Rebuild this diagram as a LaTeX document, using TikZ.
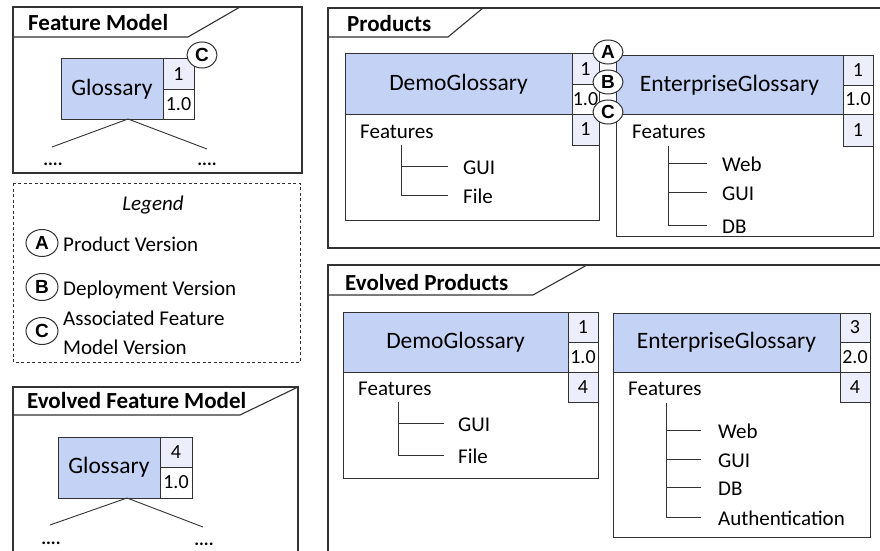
\documentclass[tikz,border=0pt]{standalone}
\usepackage{fontspec}
\setmainfont{Carlito}
\newfontfamily\markfont{Liberation Sans}
\usetikzlibrary{shapes.geometric}

\definecolor{nameblue}{RGB}{196,210,246}
\definecolor{celltint}{RGB}{236,238,251}
\definecolor{linegray}{RGB}{50,50,50}

\tikzset{
  panel/.style={draw=linegray, line width=1.1pt},
  legendframe/.style={draw=linegray, line width=0.8pt, dash pattern=on 3pt off 2.5pt},
  frametitle/.style={font=\fontsize{23}{27}\selectfont\bfseries, inner sep=0pt, anchor=base west},
  plaintext/.style={font=\fontsize{21}{26}\selectfont, inner sep=0pt},
  itemtext/.style={plaintext, anchor=base west},
  namebox/.style={rectangle, draw=linegray, line width=1pt, fill=nameblue, inner sep=0pt,
                   font=\fontsize{23.5}{28}\selectfont},
  outerbox/.style={rectangle, draw=linegray, line width=1pt, fill=white, inner sep=0pt},
  vcell/.style={rectangle, draw=linegray, line width=1pt, fill=celltint, inner sep=0pt,
                font=\fontsize{20}{24}\selectfont},
  vcellw/.style={vcell, fill=white},
  marker/.style={ellipse, draw=linegray, line width=1pt, fill=white, inner sep=0pt,
                 font=\markfont\fontsize{19}{22}\selectfont\bfseries},
  tree/.style={draw=linegray, line width=0.9pt},
  dots/.style={font=\fontsize{18}{20}\selectfont\bfseries, inner sep=0pt, anchor=base},
}

\begin{document}
\begin{tikzpicture}[x=1pt,y=-1pt]
\useasboundingbox (0,0) rectangle (880,551);
\clip (0,0) rectangle (880,551);
\fill[white] (0,0) rectangle (880,551);

% ---------------- Feature Model ----------------
\draw[panel] (13,7) rectangle (302,173);
\draw[panel] (13,37) -- (188,37) -- (240,7);
\node[frametitle] (fmTitle) at (28,31) {Feature Model};

\node[namebox, minimum width=102pt, minimum height=60pt] (fmName) at (112,89) {Glossary};
\node[vcell, minimum width=31pt, minimum height=30pt] (fmV1) at (178.5,74) {1};
\node[vcellw, minimum width=31pt, minimum height=30pt] (fmV2) at (178.5,104) {1.0};
\node[marker, minimum width=30pt, minimum height=26pt] (fmC) at (202,55) {C};

\coordinate (fmRoot) at (128,119);
\coordinate (fmLeft) at (52,147);
\coordinate (fmRight) at (207,149);
\draw[tree] (fmRoot) -- (fmLeft);
\draw[tree] (fmRoot) -- (fmRight);
\node[dots] (fmDotsL) at (53,165) {....};
\node[dots] (fmDotsR) at (207,165) {....};

% ---------------- Legend ----------------
\draw[legendframe] (13,183) rectangle (300,362);
\node[plaintext, anchor=base, font=\fontsize{21}{26}\selectfont\itshape] (lgTitle) at (153,210) {Legend};

\node[marker, minimum width=32pt, minimum height=27pt] (lgA) at (42,243) {A};
\node[itemtext] (lgAtext) at (63,251) {Product Version};
\node[marker, minimum width=32pt, minimum height=27pt] (lgB) at (42,287) {B};
\node[itemtext] (lgBtext) at (63,295) {Deployment Version};
\node[marker, minimum width=32pt, minimum height=27pt] (lgC) at (42,331) {C};
\node[plaintext, anchor=west, align=left, font=\fontsize{21}{29}\selectfont] (lgCtext) at (63,333)
  {Associated Feature\\Model Version};

% ---------------- Evolved Feature Model ----------------
\draw[panel] (13,387) rectangle (298,570);
\draw[panel] (13,415) -- (240,415) -- (298,387);
\node[frametitle] (efmTitle) at (27,408) {Evolved Feature Model};

\node[namebox, minimum width=102pt, minimum height=61pt] (efmName) at (109,467.5) {Glossary};
\node[vcell, minimum width=32pt, minimum height=30pt] (efmV1) at (176,452) {4};
\node[vcellw, minimum width=32pt, minimum height=31pt] (efmV2) at (176,482.5) {1.0};

\coordinate (efmRoot) at (127,498);
\coordinate (efmLeft) at (50,525);
\coordinate (efmRight) at (203,527);
\draw[tree] (efmRoot) -- (efmLeft);
\draw[tree] (efmRoot) -- (efmRight);
\node[dots] (efmDotsL) at (51,544) {....};
\node[dots] (efmDotsR) at (204,545) {....};

% ---------------- Products ----------------
\draw[panel] (328,8) rectangle (900,248);
\draw[panel] (328,37) -- (448,37) -- (483,8);
\node[frametitle] (pTitle) at (347,32) {Products};

% DemoGlossary
\node[outerbox, minimum width=254pt, minimum height=166pt] (pdBox) at (472,137) {};
\node[namebox, minimum width=227pt, minimum height=60pt] (pdName) at (458.5,84) {DemoGlossary};
\node[vcell, minimum width=27pt, minimum height=30pt] (pdV1) at (585.5,69) {1};
\node[vcellw, minimum width=27pt, minimum height=30pt] (pdV2) at (585.5,99) {1.0};
\node[vcell, minimum width=27pt, minimum height=31pt] (pdV3) at (585.5,129.5) {1};
\node[itemtext] (pdFeat) at (360,138) {Features};
\node[itemtext] (pdGUI) at (463,174) {GUI};
\node[itemtext] (pdFile) at (463,203) {File};
\coordinate (pdTrunk) at (401,145);
\coordinate (pdGUIe) at ([shift={(-15pt,8pt)}]pdGUI.base west);
\coordinate (pdFilee) at ([shift={(-15pt,8pt)}]pdFile.base west);
\draw[tree] (pdTrunk) |- (pdFilee);
\draw[tree] (pdTrunk |- pdGUIe) -- (pdGUIe);

% EnterpriseGlossary
\node[outerbox, minimum width=257pt, minimum height=180pt] (peBox) at (744.5,146) {};
\node[namebox, minimum width=227pt, minimum height=58pt] (peName) at (729.5,85) {EnterpriseGlossary};
\node[vcell, minimum width=30pt, minimum height=29pt] (peV1) at (858,70.5) {1};
\node[vcellw, minimum width=30pt, minimum height=29pt] (peV2) at (858,99.5) {1.0};
\node[vcell, minimum width=30pt, minimum height=32pt] (peV3) at (858,130) {1};
\node[itemtext] (peFeat) at (632,138) {Features};
\node[itemtext] (peWeb) at (722,171) {Web};
\node[itemtext] (peGUI) at (722,200) {GUI};
\node[itemtext] (peDB) at (722,233) {DB};
\coordinate (peTrunk) at (668,146);
\coordinate (peWebe) at ([shift={(-15pt,8pt)}]peWeb.base west);
\coordinate (peGUIe) at ([shift={(-15pt,8pt)}]peGUI.base west);
\coordinate (peDBe) at ([shift={(-15pt,8pt)}]peDB.base west);
\draw[tree] (peTrunk) |- (peDBe);
\draw[tree] (peTrunk |- peWebe) -- (peWebe);
\draw[tree] (peTrunk |- peGUIe) -- (peGUIe);

% version markers
\node[marker, minimum width=30pt, minimum height=24pt] (mA) at (608,52) {A};
\node[marker, minimum width=30pt, minimum height=24pt] (mB) at (608,82) {B};
\node[marker, minimum width=30pt, minimum height=24pt] (mC) at (608,112) {C};

% ---------------- Evolved Products ----------------
\draw[panel] (328,265) rectangle (900,570);
\draw[panel] (328,295) -- (533,295) -- (587,265);
\node[frametitle] (epTitle) at (345,290) {Evolved Products};

% DemoGlossary
\node[outerbox, minimum width=255pt, minimum height=166pt] (edBox) at (470.5,395) {};
\node[namebox, minimum width=225pt, minimum height=60pt] (edName) at (455.5,342) {DemoGlossary};
\node[vcell, minimum width=30pt, minimum height=30pt] (edV1) at (583,327) {1};
\node[vcellw, minimum width=30pt, minimum height=30pt] (edV2) at (583,357) {1.0};
\node[vcell, minimum width=30pt, minimum height=30pt] (edV3) at (583,387) {4};
\node[itemtext] (edFeat) at (358,395) {Features};
\node[itemtext] (edGUI) at (458,431) {GUI};
\node[itemtext] (edFile) at (458,463) {File};
\coordinate (edTrunk) at (398,402);
\coordinate (edGUIe) at ([shift={(-14pt,8pt)}]edGUI.base west);
\coordinate (edFilee) at ([shift={(-14pt,8pt)}]edFile.base west);
\draw[tree] (edTrunk) |- (edFilee);
\draw[tree] (edTrunk |- edGUIe) -- (edGUIe);

% EnterpriseGlossary
\node[outerbox, minimum width=257pt, minimum height=224pt] (eeBox) at (741.5,425) {};
\node[namebox, minimum width=227pt, minimum height=59pt] (eeName) at (726.5,342.5) {EnterpriseGlossary};
\node[vcell, minimum width=30pt, minimum height=29pt] (eeV1) at (855,327.5) {3};
\node[vcellw, minimum width=30pt, minimum height=30pt] (eeV2) at (855,357) {2.0};
\node[vcell, minimum width=30pt, minimum height=30pt] (eeV3) at (855,387) {4};
\node[itemtext] (eeFeat) at (628,395) {Features};
\node[itemtext] (eeWeb) at (718,438) {Web};
\node[itemtext] (eeGUI) at (718,467) {GUI};
\node[itemtext] (eeDB) at (718,495) {DB};
\node[itemtext] (eeAuth) at (718,525) {Authentication};
\coordinate (eeTrunk) at (666,403);
\coordinate (eeWebe) at ([shift={(-17pt,8pt)}]eeWeb.base west);
\coordinate (eeGUIe) at ([shift={(-17pt,8pt)}]eeGUI.base west);
\coordinate (eeDBe) at ([shift={(-17pt,8pt)}]eeDB.base west);
\coordinate (eeAuthe) at ([shift={(-17pt,8pt)}]eeAuth.base west);
\draw[tree] (eeTrunk) |- (eeAuthe);
\draw[tree] (eeTrunk |- eeWebe) -- (eeWebe);
\draw[tree] (eeTrunk |- eeGUIe) -- (eeGUIe);
\draw[tree] (eeTrunk |- eeDBe) -- (eeDBe);
\end{tikzpicture}
\end{document}
